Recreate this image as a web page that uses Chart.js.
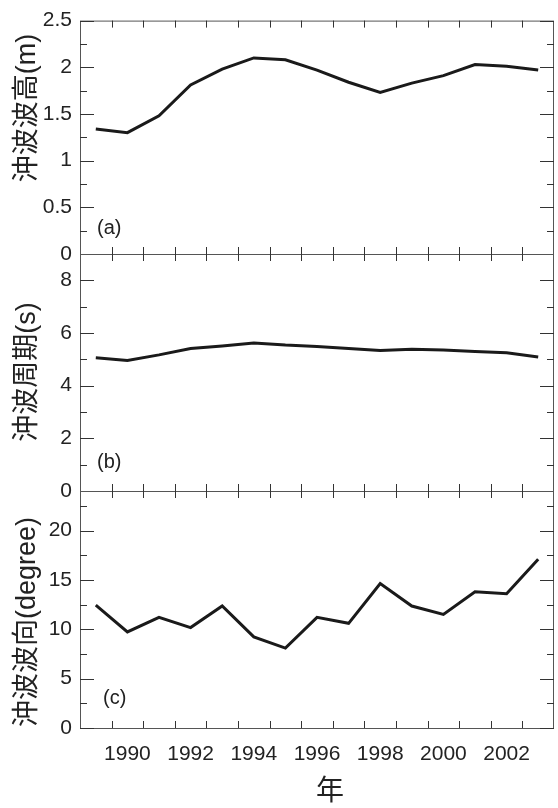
<!DOCTYPE html>
<html>
<head>
<meta charset="utf-8">
<script src="https://cdn.jsdelivr.net/npm/chart.js@4.4.1/dist/chart.umd.min.js"></script>
<style>
  body { margin: 0; background: #fff; }
  #wrap { position: relative; width: 558px; height: 808px; }
  canvas { position: absolute; left: 0; top: 0; }
</style>
</head>
<body>
<div id="wrap">
  <canvas id="chartA" width="558" height="808"></canvas>
  <canvas id="chartB" width="558" height="808"></canvas>
  <canvas id="chartC" width="558" height="808"></canvas>
</div>
<script>
// data
const years = [1989, 1990, 1991, 1992, 1993, 1994, 1995, 1996, 1997, 1998, 1999, 2000, 2001, 2002, 2003];
const waveHeight = [1.34, 1.30, 1.48, 1.81, 1.98, 2.10, 2.08, 1.97, 1.84, 1.73, 1.83, 1.91, 2.03, 2.01, 1.97];
const wavePeriod = [5.06, 4.96, 5.17, 5.41, 5.51, 5.62, 5.54, 5.49, 5.41, 5.34, 5.38, 5.35, 5.30, 5.25, 5.09];
const waveDirection = [12.45, 9.73, 11.2, 10.17, 12.35, 9.23, 8.09, 11.2, 10.6, 14.63, 12.35, 11.5, 13.8, 13.6, 17.08];

// tick labels and tick marks
const yearLabels = [1990, 1992, 1994, 1996, 1998, 2000, 2002];
const yearTickMarks = [1989.5, 1990.5, 1991.5, 1992.5, 1993.5, 1994.5, 1995.5, 1996.5, 1997.5, 1998.5, 1999.5, 2000.5, 2001.5, 2002.5];
const heightTicks = [0, 0.5, 1, 1.5, 2, 2.5];
const heightMinor = [0.25, 0.75, 1.25, 1.75, 2.25];
const periodTicks = [0, 2, 4, 6, 8];
const periodMinor = [1, 3, 5, 7];
const directionTicks = [0, 5, 10, 15, 20];
const directionMinor = [2.5, 7.5, 12.5, 17.5, 22.5];

const panelTitles = ['沖波波高(m)', '沖波周期(s)', '沖波波向(degree)'];
const panelLabels = ['(a)', '(b)', '(c)'];
const xTitle = '年';

const FONT = '"Liberation Sans", Arial, "Noto Sans CJK JP", sans-serif';
const TEXT = '#222';

function framePlugin(p) {
  return {
    id: 'frame_' + p.id,
    afterDraw(chart) {
      const ctx = chart.ctx;
      const a = chart.chartArea;
      const ys = chart.scales.y;
      const xs = chart.scales.x;
      ctx.save();
      // box
      ctx.strokeStyle = '#555';
      ctx.lineWidth = 1;
      ctx.strokeRect(a.left + 0.5, a.top + 0.5, a.right - a.left - 1, a.bottom - a.top);
      // y ticks, inward on both sides
      ctx.strokeStyle = '#333';
      ctx.beginPath();
      p.majors.forEach(v => {
        const y = Math.round(ys.getPixelForValue(v)) + 0.5;
        ctx.moveTo(a.left, y); ctx.lineTo(a.left + 14, y);
        ctx.moveTo(a.right, y); ctx.lineTo(a.right - 14, y);
      });
      p.minors.forEach(v => {
        const y = Math.round(ys.getPixelForValue(v)) + 0.5;
        ctx.moveTo(a.left, y); ctx.lineTo(a.left + 7, y);
        ctx.moveTo(a.right, y); ctx.lineTo(a.right - 7, y);
      });
      // x ticks, top and bottom
      yearTickMarks.forEach(v => {
        const x = Math.round(xs.getPixelForValue(v)) + 0.5;
        ctx.moveTo(x, a.top); ctx.lineTo(x, a.top + 7);
        ctx.moveTo(x, a.bottom); ctx.lineTo(x, a.bottom - 7);
      });
      ctx.stroke();

      ctx.fillStyle = TEXT;
      // y axis title
      ctx.save();
      ctx.translate(28, p.titleY);
      ctx.rotate(-Math.PI / 2);
      ctx.font = '27px ' + FONT;
      ctx.textAlign = 'center';
      ctx.textBaseline = 'middle';
      ctx.fillText(p.title, 0, 0);
      ctx.restore();
      // panel label
      ctx.font = '20px ' + FONT;
      ctx.textAlign = 'left';
      ctx.textBaseline = 'middle';
      ctx.fillText(p.label, p.labelX, a.bottom - p.labelUp);
      // x title on the bottom panel
      if (p.showX) {
        ctx.font = '28px ' + FONT;
        ctx.textAlign = 'center';
        ctx.fillText(xTitle, 330, 792);
      }
      ctx.restore();
    }
  };
}

function makePanel(p) {
  return new Chart(document.getElementById(p.id), {
    type: 'line',
    data: {
      datasets: [{
        data: years.map((yr, i) => ({ x: yr, y: p.values[i] })),
        borderColor: '#1a1a1a',
        borderWidth: 3,
        pointRadius: 0,
        tension: 0,
        fill: false
      }]
    },
    options: {
      responsive: false,
      animation: false,
      events: [],
      layout: { padding: { top: p.top, bottom: p.bottom, left: 0, right: 4 } },
      plugins: { legend: { display: false }, tooltip: { enabled: false } },
      scales: {
        x: {
          type: 'linear',
          min: 1988.5,
          max: 2003.5,
          display: p.showX,
          grid: { display: false, drawTicks: false },
          border: { display: false },
          afterBuildTicks: s => { s.ticks = yearLabels.map(v => ({ value: v })); },
          afterFit: s => { s.height = p.showX ? 80 : 0; },
          ticks: {
            padding: 14,
            color: TEXT,
            font: { family: FONT, size: 21 },
            maxRotation: 0,
            autoSkip: false,
            callback: v => String(v)
          }
        },
        y: {
          min: 0,
          max: p.max,
          grid: { display: false, drawTicks: false },
          border: { display: false },
          afterBuildTicks: s => { s.ticks = p.majors.map(v => ({ value: v })); },
          afterFit: s => { s.width = 80; },
          ticks: {
            padding: 8,
            color: TEXT,
            font: { family: FONT, size: 21 },
            callback: v => String(v)
          }
        }
      }
    },
    plugins: [framePlugin(p)]
  });
}

makePanel({ id: 'chartA', values: waveHeight, max: 2.5, majors: heightTicks, minors: heightMinor,
  title: panelTitles[0], label: panelLabels[0], top: 16, bottom: 554, titleY: 108, labelX: 97, labelUp: 26, showX: false });
makePanel({ id: 'chartB', values: wavePeriod, max: 9, majors: periodTicks, minors: periodMinor,
  title: panelTitles[1], label: panelLabels[1], top: 254, bottom: 317, titleY: 372, labelX: 97, labelUp: 29, showX: false });
makePanel({ id: 'chartC', values: waveDirection, max: 24, majors: directionTicks, minors: directionMinor,
  title: panelTitles[2], label: panelLabels[2], top: 491, bottom: 0, titleY: 622, labelX: 103, labelUp: 30, showX: true });
</script>
</body>
</html>
